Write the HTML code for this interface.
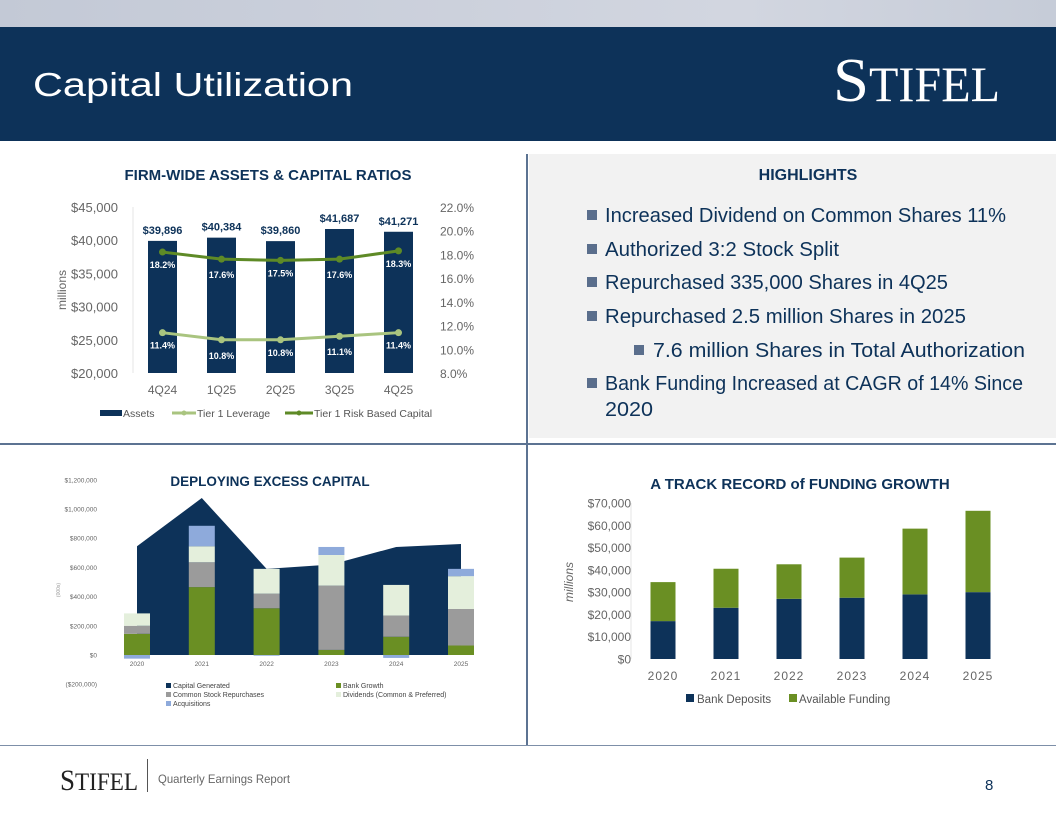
<!DOCTYPE html>
<html><head><meta charset="utf-8">
<style>
html,body{margin:0;padding:0;background:#fff;}
svg{display:block;font-family:"Liberation Sans",sans-serif;}
</style></head>
<body>
<svg id="slide" width="1056" height="816" viewBox="0 0 1056 816" xmlns="http://www.w3.org/2000/svg">
<defs>
<linearGradient id="topg" x1="0" x2="1" y1="0" y2="0">
<stop offset="0" stop-color="#c3c9d6"/><stop offset="0.7" stop-color="#d2d6e0"/><stop offset="1" stop-color="#c6ccd8"/>
</linearGradient>
</defs>
<rect x="0" y="0" width="1056" height="27" fill="url(#topg)"/>
<rect x="0" y="27" width="1056" height="114" fill="#0d3259"/>
<text x="33" y="96" font-size="33" fill="#fff" textLength="320" lengthAdjust="spacingAndGlyphs">Capital Utilization</text>
<g fill="#fff" font-family="Liberation Serif, serif">
<text x="833" y="101" font-size="62" textLength="36" lengthAdjust="spacingAndGlyphs">S</text>
<text x="869" y="101" font-size="50" textLength="131" lengthAdjust="spacingAndGlyphs">TIFEL</text>
</g>

<!-- highlights panel -->
<rect x="529" y="154" width="527" height="284" fill="#f2f2f2"/>
<rect x="526" y="154" width="2" height="592" fill="#5c7392"/>
<rect x="0" y="443" width="1056" height="2" fill="#5c7392"/>
<rect x="0" y="745" width="1056" height="1" fill="#7d8fa8"/>
<text x="808" y="180" font-size="16" font-weight="bold" fill="#0d3259" text-anchor="middle">HIGHLIGHTS</text>
<g fill="#0d3259" font-size="20">
<rect x="587" y="210" width="10" height="10" fill="#5a6e8c"/><text x="605" y="222" textLength="401" lengthAdjust="spacingAndGlyphs">Increased Dividend on Common Shares 11%</text>
<rect x="587" y="244" width="10" height="10" fill="#5a6e8c"/><text x="605" y="256" textLength="234" lengthAdjust="spacingAndGlyphs">Authorized 3:2 Stock Split</text>
<rect x="587" y="277" width="10" height="10" fill="#5a6e8c"/><text x="605" y="289" textLength="343" lengthAdjust="spacingAndGlyphs">Repurchased 335,000 Shares in 4Q25</text>
<rect x="587" y="311" width="10" height="10" fill="#5a6e8c"/><text x="605" y="323" textLength="361" lengthAdjust="spacingAndGlyphs">Repurchased 2.5 million Shares in 2025</text>
<rect x="634" y="345" width="10" height="10" fill="#5a6e8c"/><text x="653" y="357" textLength="372" lengthAdjust="spacingAndGlyphs">7.6 million Shares in  Total Authorization</text>
<rect x="587" y="378" width="10" height="10" fill="#5a6e8c"/><text x="605" y="390" textLength="418" lengthAdjust="spacingAndGlyphs">Bank Funding Increased at CAGR of 14% Since</text>
<text x="605" y="416" textLength="48" lengthAdjust="spacingAndGlyphs">2020</text>
</g>

<g id="chart1"></g>
<g id="chart2"></g>
<g id="chart3"></g>

<!-- footer -->
<g fill="#222" font-family="Liberation Serif, serif">
<text x="60" y="790" font-size="30" textLength="15" lengthAdjust="spacingAndGlyphs">S</text>
<text x="75" y="790" font-size="25" textLength="63" lengthAdjust="spacingAndGlyphs">TIFEL</text>
</g>
<rect x="147" y="759" width="1" height="33" fill="#555"/>
<text x="158" y="783" font-size="12" fill="#666" textLength="132" lengthAdjust="spacingAndGlyphs">Quarterly Earnings Report</text>
<text x="985" y="790" font-size="15" fill="#0d3259">8</text>
</svg>

<script>
const NS="http://www.w3.org/2000/svg";
function mk(parent,tag,attrs,txt){const e=document.createElementNS(NS,tag);for(const k in attrs)e.setAttribute(k,attrs[k]);if(txt!==undefined)e.textContent=txt;parent.appendChild(e);return e;}

// ---------- Chart 1 data ----------
const c1Categories=["4Q24","1Q25","2Q25","3Q25","4Q25"];
const c1Assets=[39896,40384,39860,41687,41271];
const c1RiskBased=[18.2,17.6,17.5,17.6,18.3];
const c1Leverage=[11.4,10.8,10.8,11.1,11.4];
const c1LeftTicks=[20000,25000,30000,35000,40000,45000];
const c1RightTicks=[8,10,12,14,16,18,20,22];

// ---------- Chart 2 data ----------
const c2Categories=["2020","2021","2022","2023","2024","2025"];
const c2CapitalGenerated=[745000,1075000,590000,620000,740000,760000];
const c2BankGrowth=[145000,465000,320000,35000,125000,65000];
const c2Repurchases=[55000,170000,100000,440000,145000,250000];
const c2Dividends=[85000,110000,170000,210000,210000,225000];
const c2Acquisitions=[-25000,140000,-5000,55000,-20000,50000];
const c2Ticks=[-200000,0,200000,400000,600000,800000,1000000,1200000];

// ---------- Chart 3 data ----------
const c3Categories=["2020","2021","2022","2023","2024","2025"];
const c3Deposits=[17000,23000,27000,27500,29000,30000];
const c3Available=[17500,17500,15500,18000,29500,36500];
const c3Ticks=[0,10000,20000,30000,40000,50000,60000,70000];

const NAVY="#0d3259",GREEN="#6a8f23",LGREEN="#a9c47f",GREY="#9b9b9b",LIGHT="#e4efdc",BLUE="#8eaadb";
function fmt(v){return "$"+v.toLocaleString("en-US");}

// ===== Chart 1 =====
(function(){
const g=document.getElementById("chart1");
const yL=v=>373-(v-20000)/25000*166;
const yR=v=>373-(v-8)/14*166;
const x0=133,band=59;
const xc=i=>x0+band*(i+0.5);
const t=mk(g,"text",{x:268,y:180,"font-size":15,"font-weight":"bold",fill:NAVY,"text-anchor":"middle"},"FIRM-WIDE ASSETS & CAPITAL RATIOS");


c1LeftTicks.forEach(v=>{const e=mk(g,"text",{x:118,y:yL(v)+5,"font-size":13,fill:"#666","text-anchor":"end"},fmt(v));

});
c1RightTicks.forEach(v=>{const e=mk(g,"text",{x:440,y:yR(v)+5,"font-size":12,fill:"#666"},v.toFixed(1)+"%");

});
const ax=mk(g,"line",{x1:133,x2:133,y1:207,y2:373,stroke:"#e4e4e4"});


const yt=mk(g,"text",{x:0,y:0,"font-size":12,fill:"#666","text-anchor":"middle",transform:"translate(66,290) rotate(-90)"},"millions");


c1Assets.forEach((v,i)=>{
const b=mk(g,"rect",{x:xc(i)-14.5,y:yL(v),width:29,height:373-yL(v),fill:NAVY});


const l=mk(g,"text",{x:xc(i),y:yL(v)-7,"font-size":11,"font-weight":"bold",fill:NAVY,"text-anchor":"middle"},fmt(v));


const c=mk(g,"text",{x:xc(i),y:394,"font-size":12,fill:"#666","text-anchor":"middle"},c1Categories[i]);


});
function line(data,color,w,name){
let d="";data.forEach((v,i)=>{d+=(i?"L":"M")+xc(i)+","+yR(v);});
const p=mk(g,"path",{d:d,fill:"none",stroke:color,"stroke-width":w});


data.forEach((v,i)=>{const m=mk(g,"circle",{cx:xc(i),cy:yR(v),r:3.5,fill:color});


const l=mk(g,"text",{x:xc(i),y:yR(v)+(i%2?19:16),"font-size":9,"font-weight":"bold",fill:"#fff","text-anchor":"middle"},v.toFixed(1)+"%");

});
}
line(c1RiskBased,"#5e8a26",3,"risk-based-line");
line(c1Leverage,LGREEN,3,"leverage-line");
const lg=mk(g,"g",{});


mk(lg,"rect",{x:100,y:410,width:22,height:6,fill:NAVY});
mk(lg,"text",{x:123,y:417,"font-size":10.5,fill:"#555"},"Assets");
mk(lg,"line",{x1:172,x2:196,y1:413,y2:413,stroke:LGREEN,"stroke-width":3});
mk(lg,"circle",{cx:184,cy:413,r:2.5,fill:LGREEN});
mk(lg,"text",{x:197,y:417,"font-size":10.5,fill:"#555"},"Tier 1 Leverage");
mk(lg,"line",{x1:285,x2:313,y1:413,y2:413,stroke:"#5e8a26","stroke-width":3});
mk(lg,"circle",{cx:299,cy:413,r:2.5,fill:"#5e8a26"});
mk(lg,"text",{x:314,y:417,"font-size":10.5,fill:"#555"},"Tier 1 Risk Based Capital");
})();

// ===== Chart 2 =====
(function(){
const g=document.getElementById("chart2");
const y=v=>655-v/200000*29.2;
const xc=i=>137+i*64.8;
const t=mk(g,"text",{x:270,y:486,"font-size":13.5,"font-weight":"bold",fill:NAVY,"text-anchor":"middle"},"DEPLOYING EXCESS CAPITAL");


c2Ticks.forEach(v=>{const s=v<0?"($"+(-v).toLocaleString("en-US")+")":"$"+v.toLocaleString("en-US");
const e=mk(g,"text",{x:97,y:y(v)+2.5,"font-size":6.5,fill:"#666","text-anchor":"end"},s);

});
const yt=mk(g,"text",{x:0,y:0,"font-size":5,fill:"#999","text-anchor":"middle",transform:"translate(60,590) rotate(-90)"},"(000s)");


let d="M"+xc(0)+","+y(0);
c2CapitalGenerated.forEach((v,i)=>{d+="L"+xc(i)+","+y(v);});
d+="L"+xc(c2CapitalGenerated.length-1)+","+y(0)+"Z";
const a=mk(g,"path",{d:d,fill:NAVY});


c2Categories.forEach((c,i)=>{
let base=0;
[[c2BankGrowth,GREEN,"bank-growth-bar"],[c2Repurchases,GREY,"repurchases-bar"],[c2Dividends,LIGHT,"dividends-bar"]].forEach(s=>{
const v=s[0][i];const r=mk(g,"rect",{x:xc(i)-13,y:y(base+v),width:26,height:y(base)-y(base+v),fill:s[1]});


base+=v;});
const av=c2Acquisitions[i];
const top=av>=0?base+av:0,bot=av>=0?base:av;
const r=mk(g,"rect",{x:xc(i)-13,y:y(top),width:26,height:y(bot)-y(top),fill:BLUE});


const l=mk(g,"text",{x:xc(i),y:666,"font-size":6.5,fill:"#666","text-anchor":"middle"},c);


});
const lg=mk(g,"g",{"font-size":7,fill:"#444"});


[[166,688,NAVY,"Capital Generated"],[336,688,GREEN,"Bank Growth"],[166,697,GREY,"Common Stock Repurchases"],[336,697,LIGHT,"Dividends (Common & Preferred)"],[166,706,BLUE,"Acquisitions"]].forEach(e=>{
mk(lg,"rect",{x:e[0],y:e[1]-5,width:5,height:5,fill:e[2]});
mk(lg,"text",{x:e[0]+7,y:e[1]},e[3]);});
})();

// ===== Chart 3 =====
(function(){
const g=document.getElementById("chart3");
const y=v=>659-v/70000*156;
const xc=i=>663+i*63;
const t=mk(g,"text",{x:800,y:489,"font-size":15,"font-weight":"bold",fill:NAVY,"text-anchor":"middle"},"A TRACK RECORD of FUNDING GROWTH");


c3Ticks.forEach(v=>{const e=mk(g,"text",{x:631,y:y(v)+4.5,"font-size":12,fill:"#666","text-anchor":"end"},fmt(v));

});
const ax=mk(g,"line",{x1:631,x2:631,y1:503,y2:659,stroke:"#e4e4e4"});


const yt=mk(g,"text",{x:0,y:0,"font-size":12,"font-style":"italic",fill:"#666","text-anchor":"middle",transform:"translate(573,582) rotate(-90)"},"millions");


c3Categories.forEach((c,i)=>{
const d=c3Deposits[i],a=c3Available[i];
const r1=mk(g,"rect",{x:xc(i)-12.5,y:y(d),width:25,height:y(0)-y(d),fill:NAVY});


const r2=mk(g,"rect",{x:xc(i)-12.5,y:y(d+a),width:25,height:y(d)-y(d+a),fill:GREEN});


const l=mk(g,"text",{x:xc(i),y:680,"font-size":12,fill:"#666","text-anchor":"middle","letter-spacing":"1"},c);


});
const lg=mk(g,"g",{"font-size":11.5,fill:"#555"});


mk(lg,"rect",{x:686,y:694,width:8,height:8,fill:NAVY});
mk(lg,"text",{x:697,y:703},"Bank Deposits");
mk(lg,"rect",{x:789,y:694,width:8,height:8,fill:GREEN});
mk(lg,"text",{x:799,y:703},"Available Funding");
})();
</script>
</body></html>
